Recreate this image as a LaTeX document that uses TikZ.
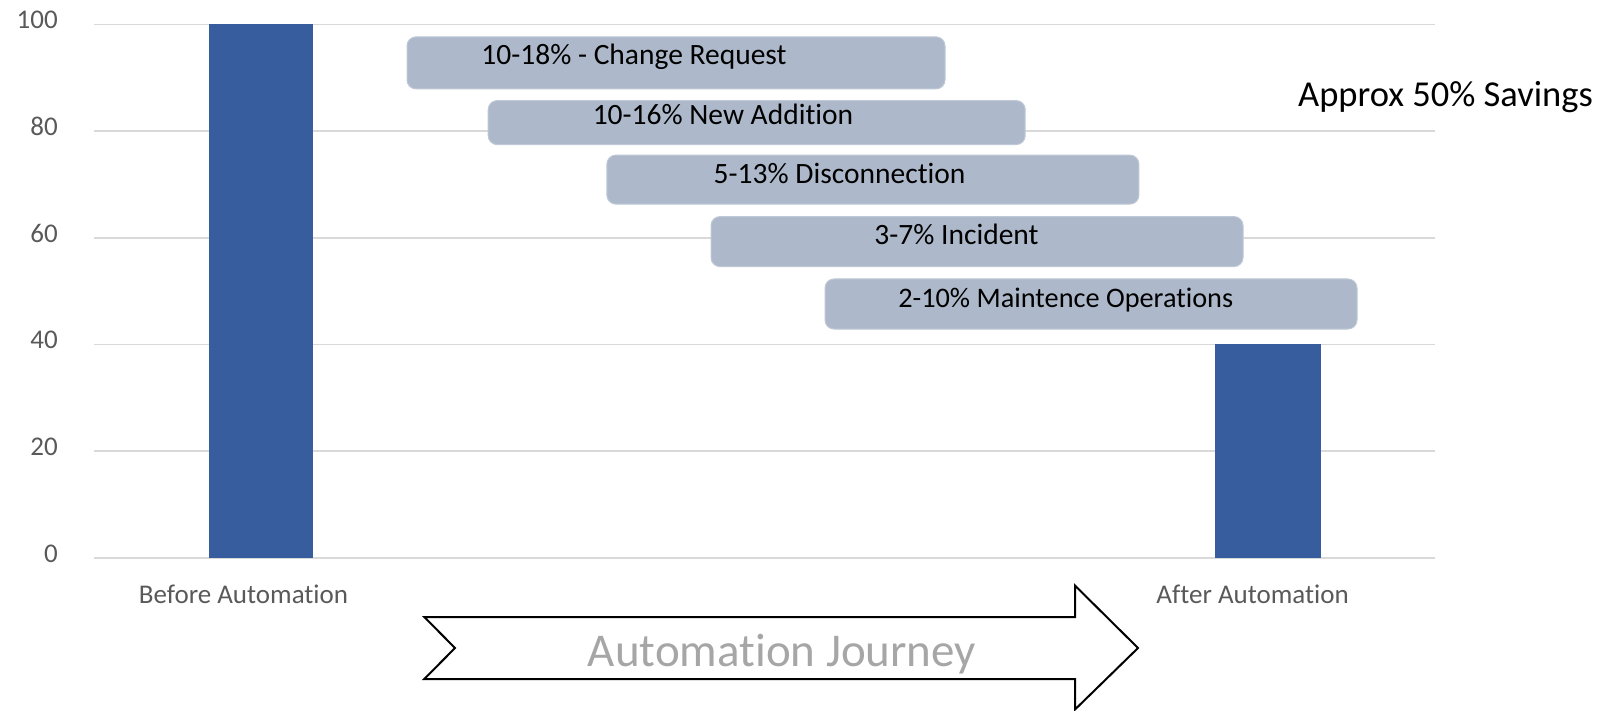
\documentclass[tikz,border=0pt]{standalone}
\usepackage{fontspec}
\setmainfont{Carlito}[Ligatures=NoCommon]
\definecolor{barblue}{RGB}{56,93,159}
\definecolor{boxgray}{RGB}{173,185,202}
\definecolor{boxedge}{RGB}{190,200,214}
\definecolor{gridgray}{RGB}{217,217,217}
\definecolor{axisgray}{RGB}{89,89,89}
\definecolor{journeygray}{RGB}{166,166,166}
\begin{document}
\begin{tikzpicture}[x=1pt,y=-1pt,
  gridline/.style={draw=gridgray,line width=1.6pt},
  ylab/.style={anchor=base east,inner sep=0pt,text=axisgray,font=\fontsize{27}{32}\selectfont},
  xlab/.style={anchor=base,inner sep=0pt,text=axisgray,font=\fontsize{27}{32}\selectfont},
  barbox/.style={fill=barblue,draw=none,inner sep=0pt,minimum width=#1},
  stagebox/.style={fill=boxgray,draw=boxedge,line width=1pt,rounded corners=9pt,inner sep=0pt,minimum width=#1},
  stagetext/.style={anchor=base,inner sep=0pt,text=black,font=\fontsize{29.5}{35}\selectfont},
]
\useasboundingbox (0,0) rectangle (1611,711);
% grid and y labels
\foreach \v/\y in {0/557.7,20/451.1,40/344.4,60/237.8,80/131.2,100/24.5}{
  \draw[gridline] (94,\y) -- (1435,\y);
  \node[ylab] (y\v) at (58,\y+4.5) {\v};
}
% bars
\node[barbox=104pt,minimum height=533.2pt] (before) at (261,291.1) {};
\node[barbox=106pt,minimum height=213.4pt] (after) at (1268,451) {};
% category labels
\node[xlab] (beforelab) at (243.5,603) {Before Automation};
\node[xlab] (afterlab) at (1252.6,603) {After Automation};
% stage boxes
\node[stagebox=538pt,minimum height=52pt] (b1) at (676,62.9) {};
\node[stagebox=537pt,minimum height=44pt] (b2) at (756.7,122.6) {};
\node[stagebox=532pt,minimum height=49pt] (b3) at (872.9,179.6) {};
\node[stagebox=532pt,minimum height=50pt] (b4) at (977,241.6) {};
\node[stagebox=532pt,minimum height=50pt] (b5) at (1091,304) {};
\node[stagetext] (t1) at (634,65) {10-18\% - Change Request};
\node[stagetext] (t2) at (723,125) {10-16\% New Addition};
\node[stagetext] (t3) at (839.6,183.3) {5-13\% Disconnection};
\node[stagetext] (t4) at (956.5,245) {3-7\% Incident};
\node[stagetext,font=\fontsize{28.3}{34}\selectfont] (t5) at (1065.7,308) {2-10\% Maintence Operations};
% savings
\node[anchor=base,inner sep=0pt,font=\fontsize{36.5}{44}\selectfont] (savings) at (1445.5,106.7) {Approx 50\% Savings};
% journey arrow
\draw[black,line width=2pt,line join=miter,fill=white]
  (424.3,617) -- (1075,617) -- (1075,585.6) -- (1138,648) -- (1075,709.5)
  -- (1075,679) -- (424.3,679) -- (455,648) -- cycle;
\node[anchor=base,inner sep=0pt,text=journeygray,font=\fontsize{47}{56}\selectfont] (journey) at (782,666.7) {Automation Journey};
\end{tikzpicture}
\end{document}
